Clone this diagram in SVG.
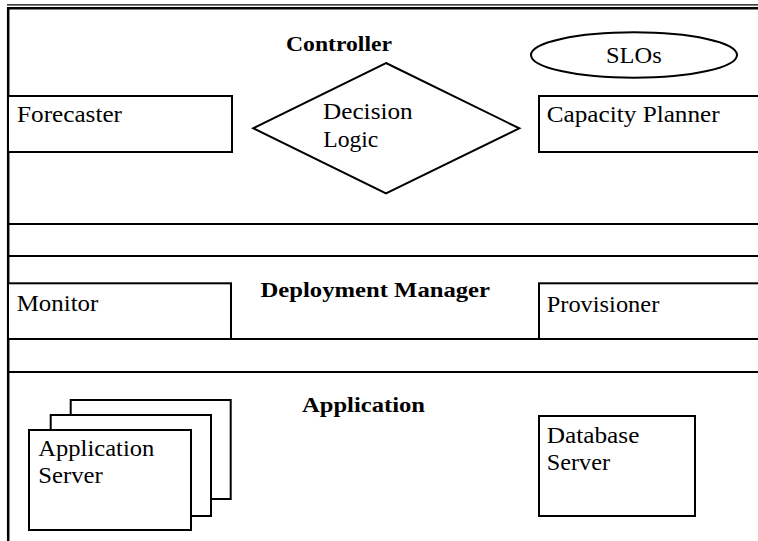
<svg xmlns="http://www.w3.org/2000/svg" width="758" height="541" viewBox="0 0 758 541">
  <style>
    .frame { stroke: #000; stroke-width: 2; fill: none; }
    .box { stroke: #000; stroke-width: 2; fill: #fff; }
    .lbl { font-family: "Liberation Serif", "Times New Roman", serif; font-size: 23px; fill: #000; }
    .title { font-family: "Liberation Serif", "Times New Roman", serif; font-size: 21.5px; font-weight: bold; fill: #000; }
  </style>
  <rect width="758" height="541" fill="#fff"/>

  <!-- layer frame: double top rule, left border and band separators -->
  <g id="layers">
    <line x1="7" y1="4.8" x2="758" y2="4.8" stroke="#000" stroke-width="1.3"/>
    <line x1="7" y1="8.3" x2="758" y2="8.3" stroke="#000" stroke-width="2.4"/>
    <line x1="8.2" y1="7" x2="8.2" y2="541" stroke="#000" stroke-width="2.5"/>
    <line class="frame" x1="8" y1="224" x2="758" y2="224"/>
    <line class="frame" x1="8" y1="256" x2="758" y2="256"/>
    <line class="frame" x1="8" y1="339" x2="758" y2="339"/>
    <line class="frame" x1="8" y1="372" x2="758" y2="372"/>
  </g>

  <!-- Controller layer -->
  <g id="controller">
    <text class="title" x="286" y="51" textLength="106" lengthAdjust="spacingAndGlyphs">Controller</text>
  </g>
  <g id="slos">
    <ellipse class="box" cx="634" cy="55" rx="103" ry="22.7"/>
    <text class="lbl" x="606" y="63.3" textLength="55.7" lengthAdjust="spacingAndGlyphs">SLOs</text>
  </g>
  <g id="forecaster">
    <rect class="box" x="8" y="96" width="224" height="56"/>
    <text class="lbl" x="17" y="121.7" textLength="105" lengthAdjust="spacingAndGlyphs">Forecaster</text>
  </g>
  <g id="decision-logic">
    <polygon class="box" points="386,63 519.3,128.3 386,193.3 253.3,128.3"/>
    <text class="lbl" x="323" y="119.3" textLength="89.7" lengthAdjust="spacingAndGlyphs">Decision</text>
    <text class="lbl" x="323.3" y="146.5" textLength="55" lengthAdjust="spacingAndGlyphs">Logic</text>
  </g>
  <g id="capacity-planner">
    <rect class="box" x="539" y="96" width="230" height="56"/>
    <text class="lbl" x="546.7" y="121.7" textLength="173" lengthAdjust="spacingAndGlyphs">Capacity Planner</text>
  </g>

  <!-- Deployment Manager layer -->
  <g id="deployment-manager">
    <text class="title" x="260.5" y="297" textLength="229.5" lengthAdjust="spacingAndGlyphs">Deployment Manager</text>
  </g>
  <g id="monitor">
    <rect class="box" x="8" y="283.3" width="223" height="55.7"/>
    <text class="lbl" x="16.7" y="311" textLength="81.6" lengthAdjust="spacingAndGlyphs">Monitor</text>
  </g>
  <g id="provisioner">
    <rect class="box" x="539" y="283.3" width="230" height="55.7"/>
    <text class="lbl" x="546.7" y="311.5" textLength="112.6" lengthAdjust="spacingAndGlyphs">Provisioner</text>
  </g>

  <!-- Application layer -->
  <g id="application">
    <text class="title" x="302" y="411.7" textLength="123" lengthAdjust="spacingAndGlyphs">Application</text>
  </g>
  <g id="application-server">
    <rect class="box" x="70.7" y="400" width="160" height="99"/>
    <rect class="box" x="50.7" y="415" width="160.3" height="101"/>
    <rect class="box" x="29" y="430" width="162" height="100"/>
    <text class="lbl" x="38.3" y="455.5" textLength="116" lengthAdjust="spacingAndGlyphs">Application</text>
    <text class="lbl" x="38.3" y="483.3" textLength="64.4" lengthAdjust="spacingAndGlyphs">Server</text>
  </g>
  <g id="database-server">
    <rect class="box" x="539" y="416" width="156" height="100"/>
    <text class="lbl" x="546.7" y="442.7" textLength="92.7" lengthAdjust="spacingAndGlyphs">Database</text>
    <text class="lbl" x="546.7" y="470" textLength="63.3" lengthAdjust="spacingAndGlyphs">Server</text>
  </g>

  <!-- no connectors between the components -->
  <g id="connectors"/>
</svg>
